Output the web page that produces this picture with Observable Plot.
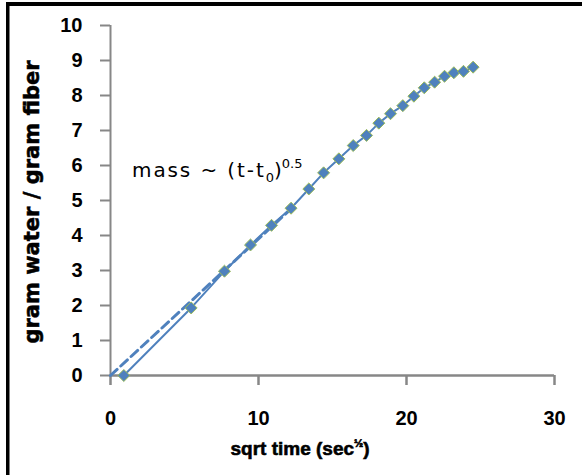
<!DOCTYPE html>
<html>
<head>
<meta charset="utf-8">
<script src="https://cdn.jsdelivr.net/npm/d3@7"></script>
<script src="https://cdn.jsdelivr.net/npm/@observablehq/plot@0.6"></script>
<style>
  html, body { margin: 0; padding: 0; background: #fff; overflow: hidden; }
  #chart { position: relative; width: 582px; height: 475px; }
  #chart svg { display: block; }
</style>
</head>
<body>
<div id="chart"></div>
<script>
// Measured data: sqrt time (sec^0.5) vs gram water / gram fiber
const sqrtTime = [0.9, 5.45, 7.7, 9.46, 10.88, 12.2, 13.4, 14.4, 15.43, 16.4, 17.3, 18.13, 18.92, 19.75, 20.5, 21.2, 21.9, 22.57, 23.2, 23.85, 24.5];
const massRatio = [0.0, 1.93, 2.98, 3.73, 4.29, 4.78, 5.33, 5.79, 6.19, 6.57, 6.86, 7.21, 7.48, 7.71, 7.98, 8.22, 8.38, 8.55, 8.65, 8.69, 8.81];
// Square-root fit line (dashed)
const fitX = [0, 12.5];
const fitY = [0, 4.88];
const xTicks = [0, 10, 20, 30];
const yTicks = [0, 1, 2, 3, 4, 5, 6, 7, 8, 9, 10];

const data = sqrtTime.map((x, i) => ({x, y: massRatio[i]}));
const fit = fitX.map((x, i) => ({x, y: fitY[i]}));

const blue = "#4F81BD";
const green = "#9BBB59";
const axisGray = "#878787";
const boldFont = "'Liberation Sans', Arial, sans-serif";

const plot = Plot.plot({
  width: 582,
  height: 475,
  marginLeft: 110,
  marginRight: 28,
  marginTop: 25,
  marginBottom: 100,
  x: {domain: [0, 30], ticks: xTicks},
  y: {domain: [0, 10], ticks: yTicks},
  style: {background: "#fff", overflow: "visible"},
  marks: [
    Plot.ruleX([0], {stroke: axisGray, strokeWidth: 2}),
    Plot.ruleY([0], {stroke: axisGray, strokeWidth: 2.5}),
    Plot.axisX({ticks: xTicks, tickSize: 10, stroke: axisGray, strokeWidth: 2.5, text: null, label: null}),
    Plot.axisY({ticks: yTicks, tickSize: 10, stroke: axisGray, strokeWidth: 2, text: null, label: null}),
    Plot.axisX({ticks: xTicks, tickSize: 0, tickPadding: 35, fontSize: 20, fontWeight: "bold", fontFamily: boldFont, fill: "#000", stroke: "#000", strokeWidth: 0.4, label: null}),
    Plot.axisY({ticks: yTicks, tickSize: 0, tickPadding: 28, fontSize: 20, fontWeight: "bold", fontFamily: boldFont, fill: "#000", stroke: "#000", strokeWidth: 0.4, label: null}),
    Plot.line(fit, {x: "x", y: "y", stroke: blue, strokeWidth: 3, strokeDasharray: "9,5"}),
    Plot.line(data, {x: "x", y: "y", stroke: blue, strokeWidth: 2}),
    Plot.dot(data, {x: "x", y: "y", symbol: "diamond2", r: 5.4, fill: blue, stroke: green, strokeWidth: 1})
  ]
});

const svg = d3.select(plot);

// Frame (top and left edges visible)
svg.append("rect").attr("x", 6).attr("y", 2).attr("width", 576).attr("height", 4).attr("fill", "#000");
svg.append("rect").attr("x", 6).attr("y", 2).attr("width", 3.5).attr("height", 473).attr("fill", "#000");

// Axis titles
const xt = svg.append("text")
  .attr("x", 300).attr("y", 455)
  .attr("text-anchor", "middle")
  .attr("font-family", boldFont).attr("font-weight", "bold").attr("font-size", 19)
  .attr("fill", "#000").attr("stroke", "#000").attr("stroke-width", 0.6);
xt.append("tspan").text("sqrt time (sec");
xt.append("tspan").attr("font-size", 11).attr("dy", -8).text("½");
xt.append("tspan").attr("dy", 8).text(")");

svg.append("text")
  .attr("transform", "translate(39,202) rotate(-90)")
  .attr("text-anchor", "middle")
  .attr("font-family", "'DejaVu Sans', sans-serif").attr("font-weight", "bold").attr("font-size", 21)
  .attr("fill", "#000").attr("stroke", "#000").attr("stroke-width", 0.5)
  .text("gram water / gram fiber");

// Annotation
const ann = svg.append("text")
  .attr("x", 132).attr("y", 177)
  .attr("text-anchor", "start")
  .attr("font-family", "'DejaVu Sans', sans-serif").attr("font-size", 20)
  .attr("fill", "#000");
ann.append("tspan").attr("letter-spacing", 1.9).text("mass ~ (t-t");
ann.append("tspan").attr("font-size", 13).attr("dy", 5).text("0");
ann.append("tspan").attr("dy", -5).text(")");
ann.append("tspan").attr("font-size", 13).attr("dy", -9).text("0.5");

document.getElementById("chart").appendChild(plot);
</script>
</body>
</html>
